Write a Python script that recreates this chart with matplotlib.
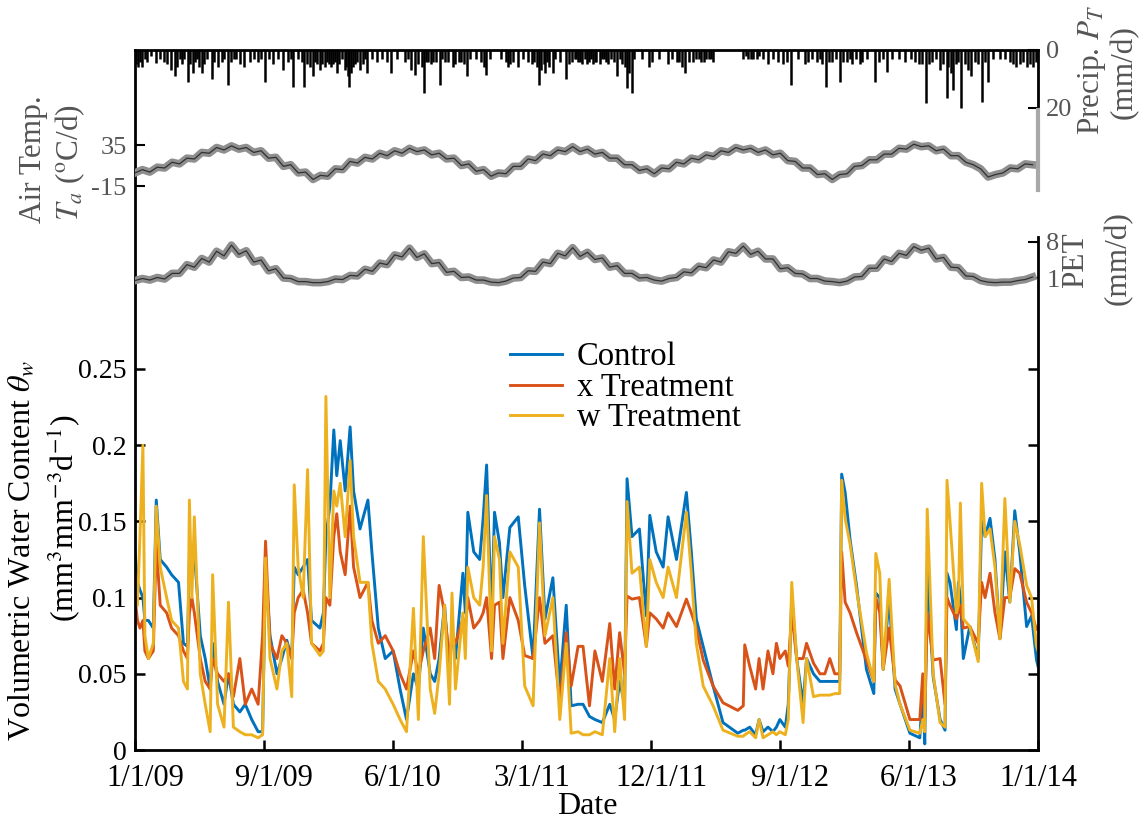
# Soil moisture under three treatments, with precipitation, air temperature and PET on top
import numpy as np
import matplotlib
matplotlib.use("Agg")
import matplotlib.pyplot as plt
from matplotlib.lines import Line2D
import matplotlib.transforms as mtransforms

plt.rcParams['font.family'] = ['Liberation Serif', 'DejaVu Serif']
plt.rcParams['mathtext.fontset'] = 'stix'
plt.rcParams['axes.unicode_minus'] = False

# ---- data (day index from 1/1/09) ----
tick_labels = ['1/1/09', '9/1/09', '6/1/10', '3/1/11', '12/1/11', '9/1/12', '6/1/13', '1/1/14']
n_days = 1826

vwc_day = [0, 5, 10, 16, 20, 27, 37, 43, 51, 64, 74, 88, 98, 106, 110, 115, 120, 132, 142, 152,
           157, 167, 180, 189, 199, 212, 223, 236, 249, 258, 264, 273, 287, 297, 307, 317, 322, 330, 340, 349,
           357, 374, 381, 386, 394, 402, 408, 415, 425, 435, 442, 455, 471, 479, 492, 506, 522, 536, 549, 563,
           573, 583, 597, 606, 615, 626, 636, 641, 648, 663, 668, 673, 685, 697, 704, 711, 721, 727, 737, 744,
           758, 775, 788, 805, 818, 829, 845, 859, 872, 882, 896, 906, 919, 930, 945, 960, 970, 980, 990, 995,
           1005, 1020, 1034, 1041, 1054, 1068, 1078, 1095, 1115, 1125, 1135, 1149, 1169, 1189, 1219, 1230, 1233, 1243, 1255, 1262,
           1270, 1280, 1290, 1297, 1304, 1315, 1321, 1328, 1338, 1351, 1358, 1372, 1385, 1395, 1405, 1415, 1425, 1429, 1436, 1446,
           1459, 1479, 1494, 1498, 1506, 1513, 1525, 1537, 1547, 1567, 1587, 1593, 1597, 1602, 1614, 1628, 1638, 1642, 1648, 1661,
           1665, 1669, 1675, 1688, 1705, 1712, 1719, 1729, 1739, 1749, 1759, 1769, 1779, 1789, 1803, 1813, 1823, 1826]

control = [.130, .110, .105, .100, .085, .085, .080, .164, .125, .120, .115, .110, .070, .068, .125, .120, .130, .075, .060, .040,
           .070, .045, .030, .050, .030, .025, .030, .020, .012, .012, .120, .075, .050, .060, .072, .060, .120, .115, .120, .125,
           .085, .080, .090, .140, .160, .210, .180, .203, .170, .212, .170, .145, .164, .130, .080, .060, .065, .040, .020, .050,
           .040, .080, .050, .045, .060, .095, .050, .080, .060, .116, .090, .156, .130, .125, .152, .187, .086, .156, .136, .100,
           .146, .153, .108, .060, .158, .086, .113, .042, .095, .029, .030, .030, .022, .020, .018, .030, .020, .045, .030, .178,
           .140, .145, .088, .154, .130, .120, .153, .125, .169, .130, .086, .068, .042, .018, .011, .013, .013, .015, .010, .020,
           .012, .015, .012, .015, .020, .015, .030, .100, .060, .030, .060, .050, .045, .045, .045, .045, .045, .181, .169, .138,
           .108, .053, .037, .103, .100, .053, .100, .040, .030, .011, .008, .040, .004, .120, .048, .020, .013, .116, .110, .079,
           .110, .100, .060, .081, .060, .150, .140, .152, .125, .073, .130, .097, .157, .130, .081, .088, .059, .055]

x_trt = [.100, .085, .080, .085, .065, .060, .065, .135, .095, .090, .080, .075, .065, .060, .090, .100, .090, .060, .045, .040,
         .060, .050, .045, .050, .035, .060, .030, .040, .030, .075, .137, .070, .060, .075, .070, .060, .090, .100, .105, .090,
         .070, .065, .070, .100, .095, .140, .155, .130, .115, .160, .120, .100, .110, .085, .070, .075, .065, .050, .040, .065,
         .050, .065, .080, .060, .108, .090, .060, .075, .070, .086, .080, .100, .080, .085, .090, .100, .060, .095, .097, .060,
         .100, .085, .062, .060, .100, .070, .075, .030, .077, .042, .068, .068, .029, .065, .045, .083, .040, .077, .050, .101,
         .099, .100, .068, .090, .086, .080, .090, .081, .099, .090, .080, .059, .042, .031, .026, .029, .069, .055, .040, .060,
         .040, .065, .050, .070, .060, .065, .055, .090, .060, .060, .070, .057, .050, .050, .060, .050, .050, .130, .097, .090,
         .077, .059, .045, .100, .090, .053, .080, .046, .042, .020, .020, .050, .020, .090, .059, .060, .030, .100, .095, .086,
         .090, .095, .080, .081, .070, .110, .100, .116, .090, .073, .100, .100, .119, .116, .097, .090, .079, .080]

w_trt = [.115, .095, .140, .200, .075, .060, .070, .160, .120, .100, .085, .080, .045, .040, .164, .100, .153, .050, .030, .012,
         .115, .030, .015, .097, .015, .012, .010, .010, .008, .010, .126, .060, .040, .065, .070, .035, .174, .120, .100, .184,
         .070, .062, .065, .232, .100, .170, .160, .175, .140, .190, .140, .110, .110, .070, .045, .040, .030, .020, .012, .093,
         .020, .140, .040, .024, .050, .095, .030, .103, .040, .090, .060, .120, .100, .095, .120, .167, .065, .140, .125, .070,
         .130, .120, .042, .029, .149, .075, .100, .020, .070, .011, .012, .010, .010, .012, .010, .060, .012, .060, .020, .163,
         .116, .120, .068, .125, .110, .100, .120, .100, .156, .116, .070, .042, .029, .013, .009, .009, .010, .012, .008, .020,
         .008, .010, .012, .010, .012, .010, .020, .110, .060, .018, .060, .035, .036, .036, .036, .037, .037, .177, .152, .135,
         .105, .064, .045, .129, .116, .053, .112, .043, .030, .013, .011, .020, .012, .158, .050, .018, .015, .177, .150, .090,
         .095, .162, .086, .081, .058, .175, .140, .145, .120, .073, .165, .097, .150, .135, .108, .100, .068, .065]

precip_day = [2, 6, 10, 14, 42, 65, 72, 80, 85, 107, 112, 117, 130, 135, 140, 155, 160, 168, 188, 200,
              212, 220, 232, 263, 270, 280, 300, 320, 330, 342, 354, 360, 368, 374, 384, 392, 400, 408, 427, 430,
              433, 437, 441, 455, 462, 470, 490, 518, 559, 566, 580, 584, 593, 598, 603, 616, 627, 643, 655, 665,
              672, 700, 705, 709, 750, 754, 758, 774, 795, 802, 812, 817, 822, 830, 838, 845, 871, 889, 896, 903,
              910, 918, 926, 933, 940, 948, 957, 974, 985, 994, 998, 1004, 1040, 1077, 1100, 1106, 1112, 1129, 1140, 1150,
              1160, 1169, 1230, 1240, 1250, 1257, 1280, 1310, 1327, 1354, 1380, 1390, 1397, 1403, 1425, 1440, 1450, 1458, 1466, 1496,
              1520, 1557, 1585, 1592, 1599, 1605, 1627, 1641, 1650, 1655, 1671, 1685, 1690, 1712, 1725, 1776, 1782, 1789, 1803, 1810,
              1816,
              20, 25, 33, 50, 58, 90, 95, 100, 122, 126, 145, 175, 180, 195, 205, 240, 248, 255, 290, 310,
              315, 337, 348, 364, 378, 388, 396, 404, 412, 418, 424, 445, 449, 466, 480, 500, 510, 530, 545, 552,
              572, 589, 608, 620, 633, 648, 660, 678, 690, 718, 740, 765, 785, 807, 827, 834, 850, 860, 878, 884,
              892, 900, 914, 922, 930, 944, 952, 962, 969, 980, 990, 1010, 1025, 1045, 1060, 1085, 1095, 1120, 1135, 1145,
              1155, 1165, 1235, 1245, 1262, 1270, 1290, 1300, 1318, 1340, 1360, 1370, 1385, 1410, 1418, 1432, 1445, 1470, 1480, 1505,
              1512, 1530, 1545, 1570, 1578, 1612, 1620, 1634, 1645, 1660, 1665, 1678, 1698, 1705, 1718, 1735, 1750, 1760, 1770, 1795,
              1822]
precip_mm = [5, 6, 4, 6, 4.5, 5, 7, 9, 6, 11, 5, 8, 6, 8, 5, 10, 4, 6, 12, 3,
             5, 6, 4, 11, 3, 5, 7, 12.6, 3, 12.6, 6, 9, 5, 7, 6, 5, 5, 8, 6, 9,
             12.7, 8, 6, 7, 5, 8, 4, 8, 7, 8.6, 6, 15, 4, 5, 4, 12, 4, 6, 4, 5,
             9, 4, 6, 8.6, 4, 6, 5, 6, 4, 5, 6, 12, 7, 8, 6, 8, 10, 3, 4, 5,
             3, 4, 5, 4, 5, 3, 5, 9, 5, 13, 8, 15, 6, 5, 4, 6, 8, 4, 3, 4,
             3, 4, 3, 3, 3, 3, 5, 5, 12, 5, 4, 5, 12.6, 4, 11, 4, 5, 3, 5, 11,
             7.5, 4, 5, 5, 18.4, 5, 7, 16.7, 8, 13.8, 20, 7, 9, 17.8, 11, 5, 6, 5, 6, 5,
             6,
             3, 4, 2, 3, 4, 3, 5, 3, 4, 3, 3, 4, 3, 4, 3, 3, 4, 3, 3, 4,
             3, 4, 5, 4, 5, 4, 6, 4, 5, 3, 7, 5, 4, 3, 3, 3, 4, 3, 4, 3,
             5, 4, 4, 3, 4, 5, 4, 3, 3, 3, 3, 4, 3, 4, 5, 4, 3, 4, 5, 4,
             3, 4, 5, 3, 4, 3, 4, 3, 4, 3, 6, 3, 3, 4, 3, 3, 4, 4, 3, 4,
             3, 3, 2, 3, 2, 3, 3, 4, 4, 3, 4, 3, 3, 4, 3, 4, 3, 4, 3, 4,
             3, 3, 3, 3, 4, 4, 3, 5, 6, 5, 4, 5, 4, 5, 4, 3, 3, 3, 4, 4,
             4]

# 15-day readings of the noisy temperature and PET bands
temp_c = [1, 5, 2, 8, 7, 14, 12, 19, 18, 26,
          25, 32, 29, 34, 30, 32, 26, 28, 19, 20,
          9, 11, 1, 2, -7, -2, -3, 6, 5, 15,
          13, 20, 18, 25, 22, 28, 25, 31, 27, 29,
          23, 25, 18, 19, 10, 12, 3, 5, -3, 1,
          0, 9, 9, 18, 16, 24, 22, 29, 27, 33,
          27, 30, 24, 26, 19, 19, 11, 11, 4, 6,
          0, 7, 6, 14, 12, 19, 17, 23, 21, 28,
          26, 32, 29, 31, 26, 29, 23, 25, 16, 15,
          7, 7, -1, 0, -7, -1, 0, 9, 10, 17,
          17, 24, 24, 31, 30, 36, 33, 34, 28, 30,
          22, 22, 14, 11, 6, -4, -1, 1, 7, 6,
          12, 11]
pet_mm = [0.5, 0.9, 0.6, 1.1, 0.8, 1.9, 1.9, 3.6, 3.1, 4.8,
          4.1, 6.2, 5.3, 7.4, 5.6, 6.3, 4.1, 4.5, 2.4, 2.8,
          1.0, 0.9, 0.3, 0.3, 0.1, 0.1, 0.3, 0.8, 0.7, 1.5,
          1.4, 2.7, 2.3, 3.9, 3.6, 5.5, 5.1, 6.8, 5.0, 5.7,
          3.8, 4.0, 2.1, 2.3, 1.1, 1.2, 0.6, 0.6, 0.2, 0.1,
          0.4, 1.0, 1.1, 2.4, 2.3, 4.1, 3.8, 5.8, 5.3, 6.9,
          5.2, 6.0, 4.6, 4.9, 3.1, 3.4, 1.9, 1.9, 1.0, 1.1,
          0.6, 0.4, 0.9, 1.1, 2.2, 2.0, 3.3, 3.0, 4.5, 4.1,
          6.1, 5.8, 7.2, 5.6, 6.2, 4.7, 4.7, 2.8, 3.0, 1.9,
          1.8, 0.9, 0.9, 0.4, 0.3, 0.1, 0.4, 1.2, 1.3, 2.9,
          2.9, 4.7, 4.2, 5.8, 5.4, 7.1, 6.4, 6.8, 4.7, 5.0,
          3.1, 3.0, 1.4, 1.3, 0.5, 0.2, 0.1, 0.2, 0.2, 0.5,
          0.7, 1.2]
band_day = 15 * np.arange(len(temp_c))

# ---- layout helpers (pixel -> figure fraction) ----
W, H = 1143, 823
def fx(px):
    return px / W
def fy(py):
    return 1 - py / H

fig = plt.figure(figsize=(W / 100, H / 100), dpi=100)
left, right = 135, 1038

# main soil moisture axes
ax = fig.add_axes([fx(left), fy(750), fx(right) - fx(left), fy(50) - fy(750)])
ax.plot(vwc_day, control, color='#0072BD', lw=2.1, label='Control')
ax.plot(vwc_day, x_trt, color='#D95319', lw=2.1, label='x Treatment')
ax.plot(vwc_day, w_trt, color='#EDB120', lw=2.1, label='w Treatment')
ax.set_xlim(0, n_days)
ax.set_ylim(0, 0.4593)
ax.set_yticks([0, 0.05, 0.1, 0.15, 0.2, 0.25])
ax.set_yticklabels(['0', '0.05', '0.1', '0.15', '0.2', '0.25'])
ax.set_xticks(np.linspace(0, n_days, 8))
ax.set_xticklabels(tick_labels)
ax.tick_params(axis='both', direction='in', length=7, width=1.8, right=True, top=False)
ax.tick_params(axis='y', labelsize=20, pad=6)
ax.tick_params(axis='x', labelsize=22, pad=10)
# date labels sit a little right of their ticks in the original
shift = mtransforms.ScaledTranslation(10 / 100, 0, fig.dpi_scale_trans)
for lab in ax.get_xticklabels()[:-1]:
    lab.set_transform(lab.get_transform() + shift)
for s in ax.spines.values():
    s.set_linewidth(2)
ax.spines['right'].set_bounds(0, 0.3366)

ax.legend(loc='upper left', bbox_to_anchor=(fx(510), fy(342)), bbox_transform=fig.transFigure,
          frameon=False, fontsize=23.5, handlelength=1.6, handletextpad=0.45,
          labelspacing=0.0, borderpad=0, borderaxespad=0)

# overlay axes for the forcing data (top strip)
rect = [fx(left), fy(290), fx(right) - fx(left), fy(50) - fy(290)]
grey = '#555555'

axp = fig.add_axes(rect, facecolor='none')
axp.vlines(precip_day, 0, precip_mm, color='black', lw=1.8)
axp.set_ylim(82.76, 0)
axp.set_yticks([0, 20])
axp.yaxis.tick_right()

axt = fig.add_axes(rect, facecolor='none')
axt.plot(band_day, temp_c, color='#8f8f8f', lw=5.5)
axt.plot(band_day, temp_c, color='#303030', lw=0.9)
axt.set_ylim(-141.8, 150.9)
axt.set_yticks([-15, 35])

ape = fig.add_axes(rect, facecolor='none')
ape.plot(band_day, pet_mm, color='#8f8f8f', lw=5.5)
ape.plot(band_day, pet_mm, color='#303030', lw=0.9)
ape.set_ylim(-1.333, 45.33)
ape.set_yticks([1, 8])
ape.yaxis.tick_right()

for a in (axp, axt, ape):
    a.set_xlim(0, n_days)
    a.set_xticks([])
    for s in a.spines.values():
        s.set_visible(False)
    a.tick_params(axis='y', direction='in', length=7, width=1.5, labelsize=19,
                  labelcolor=grey, pad=6)

# right-hand spine pieces of the top strip
fig.add_artist(Line2D([fx(right)] * 2, [fy(50), fy(110)], color='black', lw=2))
fig.add_artist(Line2D([fx(right)] * 2, [fy(110), fy(190)], color='#a8a8a8', lw=3))

# labels
fig.text(fx(22), fy(550), r'Volumetric Water Content $\theta_w$', rotation=90,
         ha='center', va='center', fontsize=23)
fig.text(fx(63), fy(518), r'(mm$^3$mm$^{-3}$d$^{-1}$)', rotation=90,
         ha='center', va='center', fontsize=23)
fig.text(fx(587), fy(806), 'Date', ha='center', va='center', fontsize=23)

fig.text(fx(34), fy(159), 'Air Temp.', rotation=90, ha='center', va='center',
         fontsize=22.5, color=grey)
fig.text(fx(70), fy(162), r'$T_a$ ($^{\rm o}$C/d)', rotation=90, ha='center', va='center',
         fontsize=22.5, color=grey)
fig.text(fx(1092), fy(70), r'Precip. $P_T$', rotation=90, ha='center', va='center',
         fontsize=22.5, color=grey)
fig.text(fx(1124), fy(72), '(mm/d)', rotation=90, ha='center', va='center',
         fontsize=22.5, color=grey)
fig.text(fx(1076), fy(260), 'PET', rotation=90, ha='center', va='center',
         fontsize=22.5, color=grey)
fig.text(fx(1118), fy(258), '(mm/d)', rotation=90, ha='center', va='center',
         fontsize=22.5, color=grey)

fig.savefig('out.png', dpi=100)
